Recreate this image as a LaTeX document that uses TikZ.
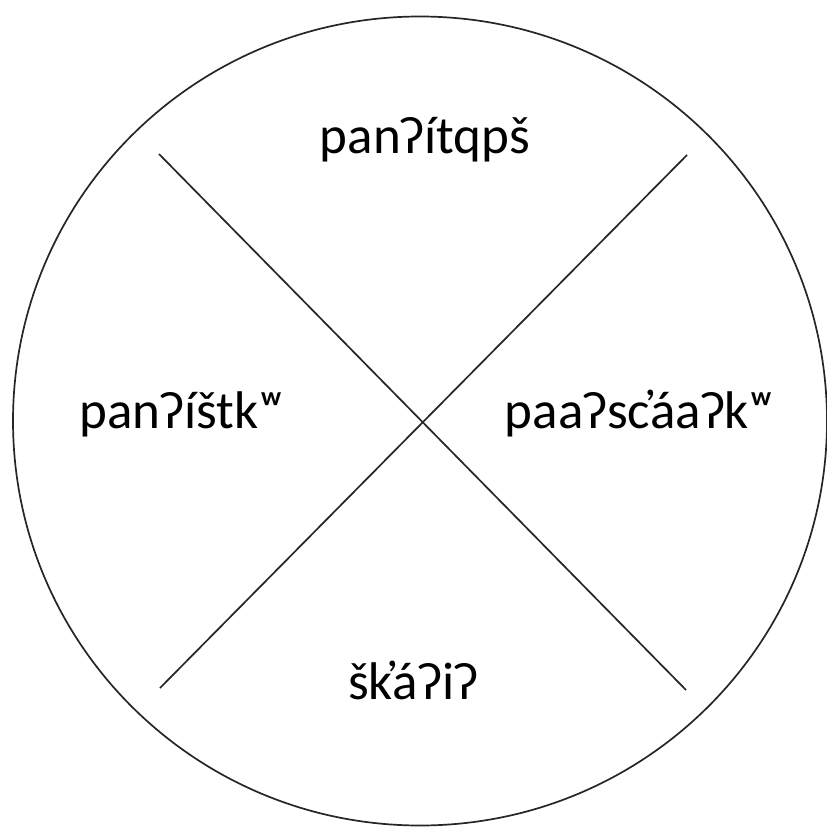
\documentclass[tikz,border=0pt]{standalone}
\usepackage{fontspec}
\setmainfont{Carlito}
\begin{document}
\begin{tikzpicture}[x=1pt,y=-1pt,
  stroke/.style={line width=1.7pt,draw=black!85},
  lbl/.style={anchor=base,inner sep=0pt,font=\fontsize{53}{56}\selectfont}]
\useasboundingbox (0,0) rectangle (827,827);
\fill[white] (0,0) rectangle (827,827);
\draw[stroke] (420,421) ellipse [x radius=407, y radius=404.5];
\coordinate (tl) at (159,154);
\coordinate (br) at (686,690);
\coordinate (tr) at (687,155);
\coordinate (bl) at (160,688);
\draw[stroke] (tl) -- (br);
\draw[stroke] (tr) -- (bl);
\node[lbl] (top) at (425,153) {panʔítqpš};
\node[lbl] (left) at (182,428) {panʔíštkʷ};
\node[lbl] (right) at (640,428) {paaʔsc̓áaʔkʷ};
\node[lbl] (bottom) at (413,699) {šk̓áʔiʔ};
\end{tikzpicture}
\end{document}
